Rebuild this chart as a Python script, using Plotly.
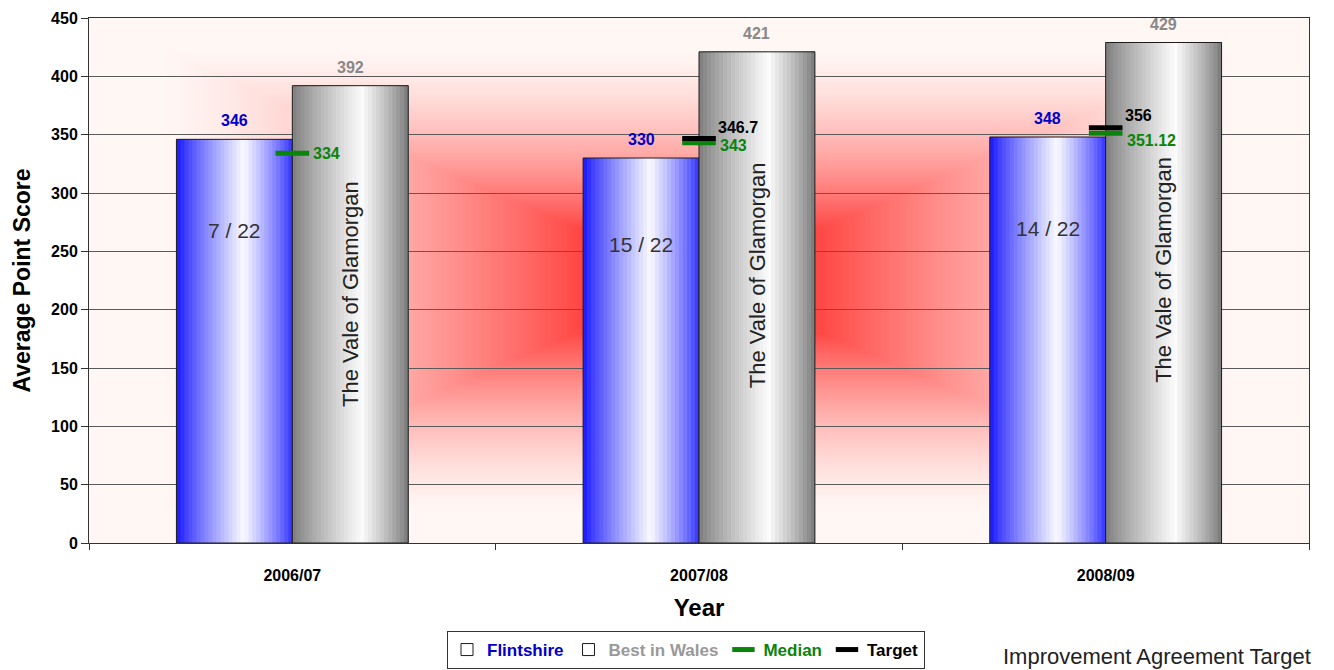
import base64
import struct
import zlib

import numpy as np
import plotly.graph_objects as go

# ---- data -------------------------------------------------------------
years = ["2006/07", "2007/08", "2008/09"]
flintshire = [346, 330, 348]
best_in_wales = [392, 421, 429]
median = [334, 343, 351.12]
target = [None, 346.7, 356]
flintshire_rank = ["7 / 22", "15 / 22", "14 / 22"]
best_authority = ["The Vale of Glamorgan", "The Vale of Glamorgan", "The Vale of Glamorgan"]

# ---- styling ----------------------------------------------------------
FONT = "Arial, 'Liberation Sans', Helvetica, sans-serif"
BAR_W = 0.285          # width of one bar, in category units
N_SLICES = 29          # vertical strips used to shade each bar
BLUE_TEXT = "#0000cc"
GREY_TEXT = "#888888"
GREEN = "#0a840a"
# label nudges (pixels) for the median / target values
MEDIAN_LABEL_DY = [0, -3, -7]
TARGET_LABEL_DY = [0, 11, 12]


def png_data_uri(rgb):
    """Encode an (h, w, 3) uint8 array as a PNG data URI."""
    h, w, _ = rgb.shape
    raw = b"".join(b"\x00" + rgb[r].tobytes() for r in range(h))

    def chunk(tag, data):
        c = struct.pack(">I", len(data)) + tag + data
        return c + struct.pack(">I", zlib.crc32(tag + data) & 0xFFFFFFFF)

    png = b"\x89PNG\r\n\x1a\n"
    png += chunk(b"IHDR", struct.pack(">IIBBBBB", w, h, 8, 2, 0, 0, 0))
    png += chunk(b"IDAT", zlib.compress(raw, 9))
    png += chunk(b"IEND", b"")
    return "data:image/png;base64," + base64.b64encode(png).decode()


def plot_background():
    """Rectangular 'from centre' red-to-white fill for the plot area."""
    w, h = 305, 131
    u = np.abs(np.linspace(-1, 1, w))[None, :]
    v = np.abs(np.linspace(-1, 1, h))[:, None]
    t = np.maximum(u, v)
    gb = np.clip(255 - 265 * (1 - t) ** 1.7, 0, 247)
    img = np.zeros((h, w, 3), dtype=np.uint8)
    img[..., 0] = 255
    img[..., 1] = gb.astype(np.uint8)
    img[..., 2] = np.clip(gb - 3, 0, 255).astype(np.uint8)
    return png_data_uri(img)


def shade(dark, light, peak, p, edge_left, edge_right):
    """Dark-light-dark horizontal shading across a bar (p in 0..1)."""
    if p <= peak:
        f = edge_left + (1 - edge_left) * (p / peak) ** 0.85
    else:
        f = edge_right + (1 - edge_right) * ((1 - p) / (1 - peak)) ** 0.85
    c = [round(d + (l - d) * f) for d, l in zip(dark, light)]
    return "rgb(%d,%d,%d)" % tuple(c)


fig = go.Figure()


def add_shaded_bars(values, base_offset, dark, light, peak, el, er, name, group):
    sw = BAR_W / N_SLICES
    for k in range(N_SLICES):
        p = (k + 0.5) / N_SLICES
        # each strip runs to the bar's right edge; later strips cover earlier ones
        fig.add_trace(go.Bar(
            x=years, y=values, offset=base_offset + k * sw, width=BAR_W - k * sw,
            marker=dict(color=shade(dark, light, peak, p, el, er), line=dict(width=0)),
            showlegend=False, legendgroup=group, hoverinfo="skip",
        ))
    # outline drawn over the strips; carries the legend entry
    fig.add_trace(go.Bar(
        x=years, y=values, offset=base_offset, width=BAR_W,
        marker=dict(color="rgba(0,0,0,0)", line=dict(color="#1c1c1c", width=1)),
        name=name, legendgroup=group,
    ))


add_shaded_bars(flintshire, -BAR_W, (20, 20, 255), (250, 250, 255), 0.58, 0.0, 0.12,
                "<span style='color:%s'>Flintshire</span>" % BLUE_TEXT, "fl")
add_shaded_bars(best_in_wales, 0.0, (118, 118, 118), (252, 252, 252), 0.6, 0.04, 0.0,
                "<span style='color:%s'>Best in Wales</span>" % "#999999", "bw")

fig.add_trace(go.Scatter(
    x=years, y=median, mode="markers",
    marker=dict(symbol="line-ew", size=24, line=dict(color=GREEN, width=5)),
    name="<span style='color:%s'>Median</span>" % GREEN,
))
fig.add_trace(go.Scatter(
    x=years, y=target, mode="markers",
    marker=dict(symbol="line-ew", size=24, line=dict(color="#000000", width=5)),
    name="<span style='color:#000000'>Target</span>",
))

annotations = []
for i, yr in enumerate(years):
    # values above the bars
    annotations.append(dict(x=i - BAR_W / 2, y=flintshire[i], text="<b>%d</b>" % flintshire[i],
                            yanchor="bottom", yshift=8, showarrow=False,
                            font=dict(size=16, color=BLUE_TEXT, family=FONT)))
    annotations.append(dict(x=i + BAR_W / 2, y=best_in_wales[i], text="<b>%d</b>" % best_in_wales[i],
                            yanchor="bottom", yshift=8, showarrow=False,
                            font=dict(size=16, color=GREY_TEXT, family=FONT)))
    # rank inside the Flintshire bar
    annotations.append(dict(x=i - BAR_W / 2, y=flintshire[i] * 0.775, text=flintshire_rank[i],
                            showarrow=False, font=dict(size=21, color="#333333", family=FONT)))
    # best-performing authority inside the Best in Wales bar
    annotations.append(dict(x=i + BAR_W / 2, y=best_in_wales[i] * 0.545, text=best_authority[i],
                            textangle=-90, showarrow=False,
                            font=dict(size=22, color="#222222", family=FONT)))
    # median / target values
    annotations.append(dict(x=i, y=median[i], text="<b>%g</b>" % median[i], xanchor="left",
                            xshift=19, yshift=MEDIAN_LABEL_DY[i], showarrow=False,
                            font=dict(size=16, color=GREEN, family=FONT)))
    if target[i] is not None:
        annotations.append(dict(x=i, y=target[i], text="<b>%g</b>" % target[i], xanchor="left",
                                xshift=17, yshift=TARGET_LABEL_DY[i], showarrow=False,
                                font=dict(size=16, color="#000000", family=FONT)))

annotations.append(dict(xref="paper", yref="paper", x=1.003, y=-0.217, xanchor="right",
                        yanchor="middle", text="Improvement Agreement Target", showarrow=False,
                        font=dict(size=22, color="#222222", family=FONT)))

fig.update_layout(
    width=1334, height=670,
    margin=dict(l=89, r=25, t=18, b=127, autoexpand=False),
    paper_bgcolor="white", plot_bgcolor="white",
    barmode="overlay",
    font=dict(family=FONT, color="#000000"),
    showlegend=True,
    legend=dict(orientation="h", xref="container", yref="container",
                x=447 / 1334, xanchor="left", y=(670 - 631) / 670, yanchor="top",
                bordercolor="#333333", borderwidth=1, bgcolor="white",
                font=dict(size=17, family=FONT, weight="bold"),
                itemwidth=30, tracegroupgap=0),
    annotations=annotations,
    images=[dict(source=plot_background(), xref="paper", yref="paper", x=0, y=1,
                 sizex=1, sizey=1, xanchor="left", yanchor="top", sizing="stretch",
                 layer="below")],
    xaxis=dict(type="category", range=[-0.5, 2.5], tickson="boundaries",
               ticks="outside", ticklen=6, tickcolor="#333333",
               showline=True, linecolor="#333333", linewidth=1, mirror=True,
               showgrid=False, ticklabelstandoff=18, automargin=False,
               tickfont=dict(size=16, family=FONT, weight="bold"),
               title=dict(text="<b>Year</b>", font=dict(size=24, family=FONT), standoff=15)),
    yaxis=dict(range=[0, 450], dtick=50, ticks="outside", ticklen=7, tickcolor="#333333",
               showline=True, linecolor="#333333", linewidth=1, mirror=True,
               showgrid=True, gridcolor="#5a5a5a", gridwidth=1, zeroline=False,
               automargin=False,
               tickfont=dict(size=16, family=FONT, weight="bold"),
               title=dict(text="<b>Average Point Score</b>", font=dict(size=23, family=FONT),
                          standoff=14)),
)

fig.write_html("out.html")
